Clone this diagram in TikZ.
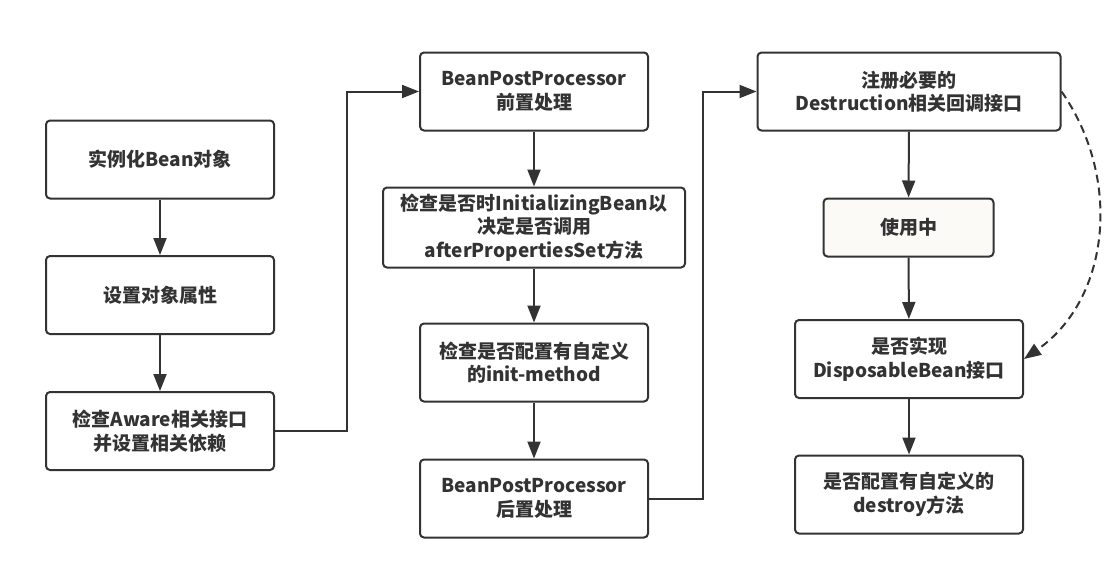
\documentclass[tikz,border=0pt]{standalone}
\usepackage{fontspec}
\setmainfont{Noto Sans CJK SC}
\usetikzlibrary{arrows.meta}
\definecolor{ink}{HTML}{333333}
\definecolor{inuse}{HTML}{FBFAF7}
\begin{document}
\begin{tikzpicture}[x=1pt, y=-1pt,
    box/.style={draw=ink, line width=2pt, rounded corners=4pt, fill=white,
        text=ink, align=center, font=\fontsize{19}{23.5}\selectfont\bfseries,
        minimum width=228pt, minimum height=78pt, inner sep=2pt},
    flow/.style={draw=ink, line width=2pt, -{Triangle[length=17pt,width=13pt]}}]
    \useasboundingbox (0,0) rectangle (1118,560);

    % first column
    \node[box] (inst) at (160,159.5) {实例化Bean对象};
    \node[box] (props) at (160,295) {设置对象属性};
    \node[box] (aware) at (160,431) {检查Aware相关接口\\并设置相关依赖};

    % second column
    \node[box] (before) at (534,91.5) {BeanPostProcessor\\前置处理};
    \node[box, minimum width=302pt, minimum height=80pt] (initbean) at (534,227.5)
        {检查是否时InitializingBean以\\决定是否调用\\afterPropertiesSet方法};
    \node[box] (initmethod) at (534,362.5) {检查是否配置有自定义\\的init-method};
    \node[box] (after) at (534,498.5) {BeanPostProcessor\\后置处理};

    % third column
    \node[box, minimum width=303pt] (register) at (909,91.5) {注册必要的\\Destruction相关回调接口};
    \node[box, fill=inuse, minimum width=170pt, minimum height=58pt] (use) at (908.5,227.5) {使用中};
    \node[box] (disposable) at (909,359) {是否实现\\DisposableBean接口};
    \node[box] (destroy) at (909,494.5) {是否配置有自定义的\\destroy方法};

    \coordinate (jog1) at (347,0);
    \coordinate (jog2) at (703,0);

    \draw[flow] (inst) -- (props);
    \draw[flow] (props) -- (aware);
    \draw[flow] (aware.east) -- (aware.east -| jog1) |- (before.west);
    \draw[flow] (before) -- (initbean);
    \draw[flow] (initbean) -- (initmethod);
    \draw[flow] (initmethod) -- (after);
    \draw[flow] (after.east) -- (after.east -| jog2) |- (register.west);
    \draw[flow] (register) -- (use);
    \draw[flow] (use) -- (disposable);
    \draw[flow] (disposable) -- (destroy);
    \draw[flow, dash pattern=on 8pt off 5pt] (register.east) to[out=-55, in=35] (disposable.east);
\end{tikzpicture}
\end{document}
